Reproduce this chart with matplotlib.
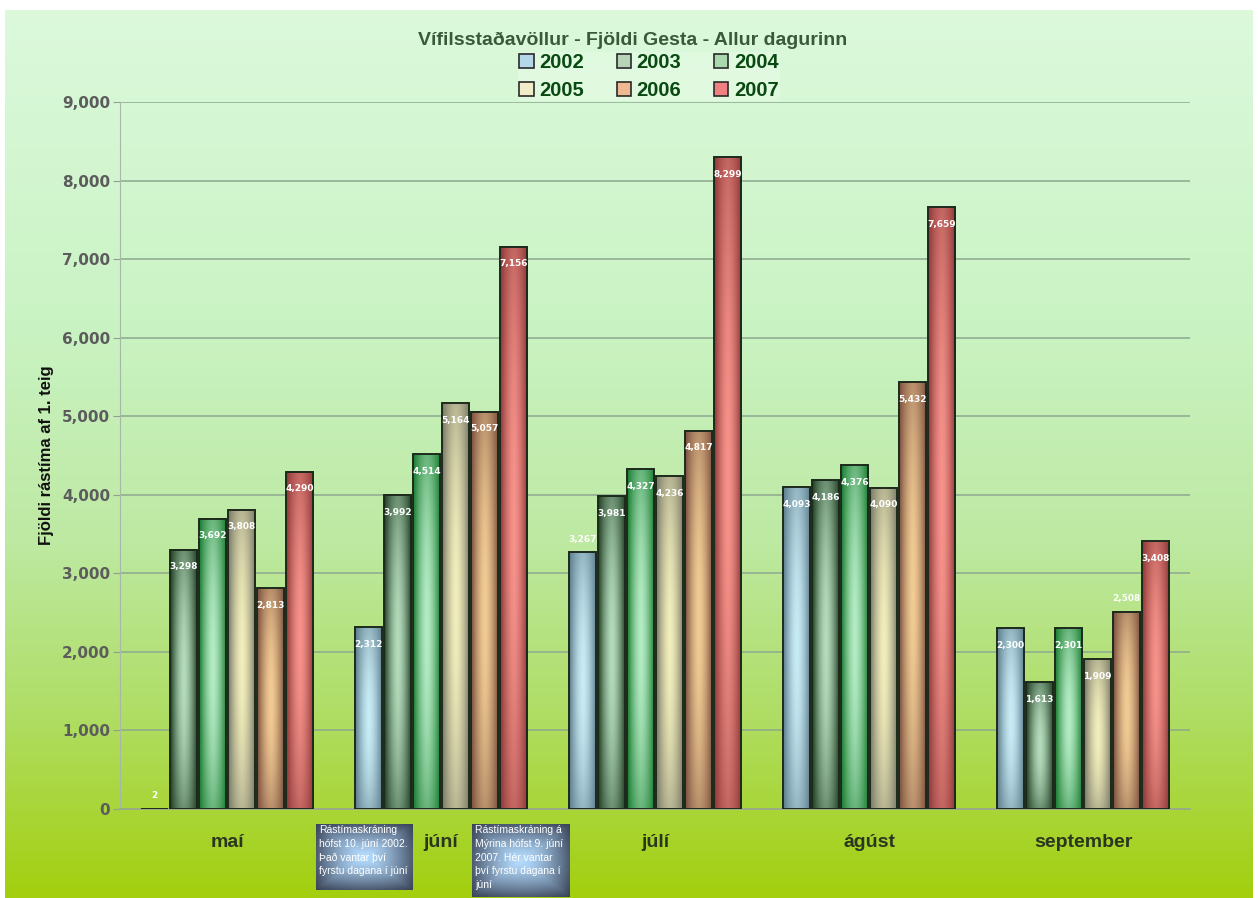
import numpy as np
import matplotlib
matplotlib.use('Agg')
import matplotlib.pyplot as plt
from matplotlib.colors import LinearSegmentedColormap, to_rgb
from matplotlib.patches import Patch
from matplotlib.ticker import FuncFormatter

# Data
months = ['maí', 'júní', 'júlí', 'ágúst', 'september']
years = ['2002', '2003', '2004', '2005', '2006', '2007']
v2002 = [2, 2312, 3267, 4093, 2300]
v2003 = [3298, 3992, 3981, 4186, 1613]
v2004 = [3692, 4514, 4327, 4376, 2301]
v2005 = [3808, 5164, 4236, 4090, 1909]
v2006 = [2813, 5057, 4817, 5432, 2508]
v2007 = [4290, 7156, 8299, 7659, 3408]
series = [v2002, v2003, v2004, v2005, v2006, v2007]

title = 'Vífilsstaðavöllur - Fjöldi Gesta - Allur dagurinn'
ylabel = 'Fjöldi rástíma af 1. teig'
note1 = 'Rástímaskráning\nhófst 10. júní 2002.\nÞað vantar því\nfyrstu dagana í júní'
note2 = 'Rástímaskráning á\nMýrina hófst 9. júní\n2007. Hér vantar\nþví fyrstu dagana í\njúní'

# labels drawn above the bar instead of inside it
outside_labels = [('maí', '2002'), ('júlí', '2002'), ('september', '2006')]

# (edge colour, highlight colour, legend colour) for each year
bar_colors = [
    ('#5b7b8a', '#c8ecf6', '#b4d8ea'),
    ('#1f3d22', '#b4dcbc', '#b8d4b8'),
    ('#177a2e', '#b4ecc4', '#a8d8ac'),
    ('#787866', '#f2eebc', '#f0ecc8'),
    ('#7a4e3e', '#f2cc94', '#f0b890'),
    ('#8c3636', '#f6928a', '#f08080'),
]

W, H = 1258, 898


def fx(px):
    return px / W


def fy(py):
    return 1 - py / H


def bar_gradient(edge, center):
    e = np.array(to_rgb(edge))
    c = np.array(to_rgb(center))
    xs = np.linspace(-1, 1, 40)
    ys = np.linspace(0, 1, 80)
    hx = 1 - np.abs(xs) ** 1.6
    vy = 0.3 + 0.7 * np.sin(np.pi * (0.08 + 0.84 * ys)) ** 0.8
    t = np.clip(vy[:, None] * hx[None, :], 0, 1)
    return e + (c - e) * t[..., None]


fig = plt.figure(figsize=(W / 100, H / 100), dpi=100)

# background gradient
bg = fig.add_axes([fx(5), 0, fx(1253) - fx(5), fy(10)])
bg_cmap = LinearSegmentedColormap.from_list(
    'bg', [(0, '#dcf9dc'), (0.35, '#caf3c4'), (0.6, '#bde9a2'), (0.8, '#afdd62'), (1, '#a3cf0e')])
bg.imshow(np.linspace(0, 1, 256).reshape(-1, 1), cmap=bg_cmap, aspect='auto',
          extent=[0, 1, 0, 1], origin='upper')
bg.axis('off')

# main plot
ax = fig.add_axes([fx(120), fy(809), (1190 - 120) / W, (809 - 102) / H])
ax.patch.set_alpha(0)

x = np.arange(len(months))
bw = 0.13
step = 0.1355
for i, (yr, vals) in enumerate(zip(years, series)):
    edge, center, _ = bar_colors[i]
    off = (i - 2.5) * step
    bars = ax.bar(x + off, vals, bw, facecolor='none', edgecolor='#1c2a1c', lw=1.4, zorder=3)
    img = bar_gradient(edge, center)
    for rect in bars:
        x0 = rect.get_x()
        ax.imshow(img, extent=[x0, x0 + rect.get_width(), 0, rect.get_height()],
                  aspect='auto', origin='lower', interpolation='bilinear', zorder=2)
    for j, v in enumerate(vals):
        outside = (months[j], yr) in outside_labels
        ax.annotate(f'{v:,}', (x[j] + off, v), xytext=(0, 13 if outside else -17),
                    textcoords='offset pixels', ha='center', va='center',
                    fontsize=6.5, fontweight='bold', color='white', zorder=5,
                    family=['Liberation Sans Narrow', 'DejaVu Sans'])

ax.set_xlim(-0.5, 4.5)
ax.set_ylim(0, 9000)
ax.set_yticks(range(0, 9001, 1000))
ax.yaxis.set_major_formatter(FuncFormatter(lambda v, p: f'{int(v):,}'))
ax.yaxis.grid(True, color='#8ea88e', lw=1.1)
ax.set_axisbelow(True)
ax.set_xticks(x, months)
for lab in ax.get_yticklabels():
    lab.set_fontsize(11)
    lab.set_fontweight('bold')
    lab.set_color('#5c5c5c')
for lab in ax.get_xticklabels():
    lab.set_fontsize(14)
    lab.set_fontweight('bold')
    lab.set_fontstyle('normal')
    lab.set_color('#2a3620')
    lab.set_family('Liberation Sans')
ax.tick_params(axis='y', length=5, color='#90a090', pad=2)
ax.tick_params(axis='x', length=0, pad=18)
for s in ['top', 'right']:
    ax.spines[s].set_visible(False)
ax.spines['left'].set_color('#a8b8a8')
ax.spines['bottom'].set_color('#9aaa8a')
ax.spines['bottom'].set_linewidth(1.3)

fig.text(fx(47), fy(455), ylabel, rotation=90, ha='center', va='center',
         fontsize=12, fontweight='bold', color='#111111', family='Liberation Sans')
fig.text(fx(633), fy(40), title, ha='center', va='center', fontsize=14,
         fontweight='bold', color='#3a583a', family='Liberation Sans')

# legend, reordered so that rows read 2002-2004 / 2005-2007
handles = [Patch(facecolor=c[2], edgecolor='#2a2a2a', lw=1.2) for c in bar_colors]
order = [0, 3, 1, 4, 2, 5]
leg = fig.legend([handles[k] for k in order], [years[k] for k in order], ncol=3,
                 loc='upper center', bbox_to_anchor=(fx(649), fy(42)),
                 frameon=True, facecolor='#e4fbe4', edgecolor='none', framealpha=0.7,
                 handlelength=0.7, handleheight=0.7, columnspacing=1.6, handletextpad=0.3,
                 labelspacing=0.45, borderpad=0.05, labelcolor='#0a4a12',
                 prop={'family': 'Liberation Sans', 'weight': 'bold', 'style': 'normal',
                       'size': 14.5})


def note_box(x0, y0, x1, y1, text):
    nax = fig.add_axes([fx(x0), fy(y1), (x1 - x0) / W, (y1 - y0) / H])
    xs = np.linspace(-1, 1, 60)
    ys = np.linspace(-1, 1, 50)
    d = (0.6 * np.maximum(np.abs(xs)[None, :], np.abs(ys)[:, None])
         + 0.4 * np.sqrt(xs[None, :] ** 2 + ys[:, None] ** 2) / np.sqrt(2))
    c = np.array(to_rgb('#b4dcff'))
    e = np.array(to_rgb('#3a4458'))
    img = c + (e - c) * (np.clip(d, 0, 1) ** 1.4)[..., None]
    nax.imshow(img, aspect='auto', extent=[0, 1, 0, 1], interpolation='bilinear')
    nax.axis('off')
    nax.text(0.03, 0.98, text, ha='left', va='top', color='white', fontsize=7.5,
             linespacing=1.45, family='Liberation Sans', transform=nax.transAxes)


note_box(316, 824, 413, 890, note1)
note_box(472, 824, 570, 897, note2)

fig.savefig('out.png', dpi=100)
